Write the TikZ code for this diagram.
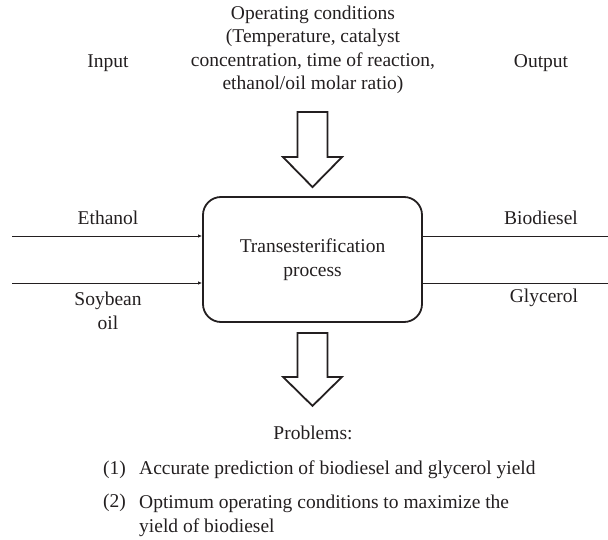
\documentclass[tikz,border=0pt]{standalone}
\usepackage{fontspec}
\setmainfont{Liberation Serif}
\usetikzlibrary{positioning,calc,arrows.meta}
\definecolor{InkGray}{RGB}{35,31,32}
\tikzset{
    txt/.style={inner sep=0pt, text=InkGray, font=\fontsize{19.5}{23.5}\selectfont},
    feed/.style={draw=InkGray, line width=0.9pt},
    fatarrow/.style={draw=InkGray, line width=1.8pt, fill=white, line join=miter}
}

\begin{document}
\begin{tikzpicture}[
        x=1pt, y=-1pt,
        % Khối quá trình: chữ nhật bo góc, viền đậm
        processbox/.style={
            rectangle,
            rounded corners=18pt,
            draw=InkGray,
            text=InkGray,
            line width=1.8pt,
            minimum width=219pt,
            minimum height=125pt,
            align=center,
            font=\fontsize{19.5}{23.5}\selectfont
        }
    ]
    \useasboundingbox (0,0) rectangle (608,540);

    % --- ĐIỀU KIỆN VẬN HÀNH ---
    \node[txt, align=center] (cond) at (313,50)
        {Operating conditions\\(Temperature, catalyst\\concentration, time of reaction,\\ethanol/oil molar ratio)};
    \node[txt] (input) at (108,63) {Input};
    \node[txt] (output) at (541,63) {Output};

    % --- QUÁ TRÌNH ---
    \node[processbox] (box) at (312.5,259.5) {Transesterification\\process};

    % Mũi tên khối trên và dưới
    \draw[fatarrow, shift={(box.north)}] (-15,-84) -- (15,-84) -- (15,-39) -- (29.5,-39)
        -- (0,-9) -- (-29.5,-39) -- (-15,-39) -- cycle;
    \draw[fatarrow, shift={(box.south)}] (-15,10) -- (15,10) -- (15,54) -- (29.5,54)
        -- (0,83) -- (-29.5,54) -- (-15,54) -- cycle;

    % --- ĐẦU VÀO ---
    \coordinate (ethin) at (12,236);
    \coordinate (soyin) at (12,283);
    \draw[feed, -{Latex[length=4pt,width=3.5pt]}] (ethin) -- (box.west |- ethin);
    \draw[feed, -{Latex[length=4pt,width=3.5pt]}] (soyin) -- (box.west |- soyin);
    \node[txt] (ethanol) at (108,218) {Ethanol};
    \node[txt, align=center] (soybean) at (108,311) {Soybean\\oil};

    % --- ĐẦU RA ---
    \coordinate (bioout) at (608,236);
    \coordinate (glyout) at (608,283);
    \draw[feed] (box.east |- bioout) -- (bioout);
    \draw[feed] (box.east |- glyout) -- (glyout);
    \node[txt] (biodiesel) at (541,218) {Biodiesel};
    \node[txt] (glycerol) at (544,298) {Glycerol};

    % --- VẤN ĐỀ ---
    \node[txt] (problems) at (313,433) {Problems:};
    \node[txt, anchor=west] (num1) at (103,470) {(1)};
    \node[txt, anchor=west] (item1) at (139,470) {Accurate prediction of biodiesel and glycerol yield};
    \node[txt, anchor=west] (num2) at (103,503) {(2)};
    \node[txt, anchor=north west, align=left] (item2) at (139,495)
        {Optimum operating conditions to maximize the\\yield of biodiesel};

\end{tikzpicture}
\end{document}
